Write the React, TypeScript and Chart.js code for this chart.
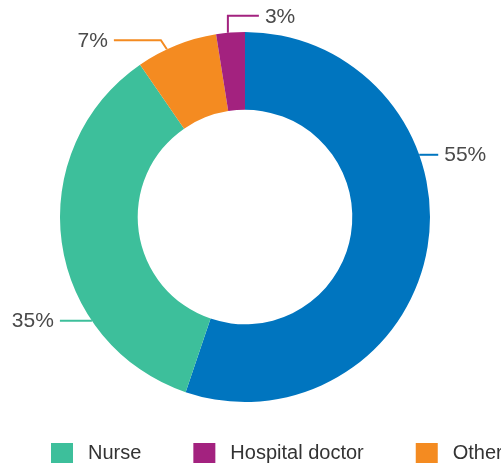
import React, { useEffect, useRef } from "react";
import { Chart, registerables } from "chart.js";

Chart.register(...registerables);

const categories = ["GP", "Nurse", "Hospital doctor", "Other"];
const values = [55.2, 35.2, 7.1, 2.5];
const colors = ["#0075bf", "#3dbf9b", "#f48b21", "#a3227f"];
const legendCategories = ["Nurse", "Hospital doctor", "Other"];
const legendColors = ["#3dbf9b", "#a3227f", "#f48b21"];
// fraction along each slice where the leader line attaches
const anchorFractions = [0.354, 0.293, 0.375, 0.41];

const FONT = "'Liberation Sans', Arial, sans-serif";
const TEXT_COLOR = "#4a4a4a";

const labelPlugin = {
  id: "leaderLabels",
  afterDatasetsDraw(chart: any) {
    const ctx = chart.ctx;
    const meta = chart.getDatasetMeta(0);
    ctx.save();
    ctx.font = `21px ${FONT}`;
    ctx.textBaseline = "middle";
    meta.data.forEach((arc: any, i: number) => {
      const { x, y, startAngle, endAngle, outerRadius } = arc.getProps(
        ["x", "y", "startAngle", "endAngle", "outerRadius"],
        true
      );
      const a = startAngle + (endAngle - startAngle) * anchorFractions[i];
      const ax = x + Math.cos(a) * outerRadius;
      const ay = y + Math.sin(a) * outerRadius;
      ctx.strokeStyle = colors[i];
      ctx.lineWidth = 2;
      ctx.fillStyle = TEXT_COLOR;
      ctx.beginPath();
      ctx.moveTo(ax, ay);
      let tx = 0;
      let ty = ay;
      let align: CanvasTextAlign = "left";
      if (i === 0) {
        ctx.lineTo(ax + 19, ay);
        tx = ax + 25;
      } else if (i === 1) {
        ctx.lineTo(ax - 32, ay);
        tx = ax - 38;
        align = "right";
      } else if (i === 2) {
        ctx.lineTo(ax - 6, ay - 9);
        ctx.lineTo(ax - 53, ay - 9);
        tx = ax - 59;
        ty = ay - 8;
        align = "right";
      } else {
        ctx.lineTo(ax, ay - 17);
        ctx.lineTo(ax + 31, ay - 17);
        tx = ax + 37;
        ty = ay - 16;
      }
      ctx.stroke();
      ctx.textAlign = align;
      ctx.fillText(`${Math.round(values[i])}%`, tx, ty);
    });
    ctx.restore();
  },
};

const legendPlugin = {
  id: "customLegend",
  afterDraw(chart: any) {
    const ctx = chart.ctx;
    ctx.save();
    ctx.font = `20px ${FONT}`;
    ctx.textBaseline = "middle";
    ctx.textAlign = "left";
    let x = 51;
    const boxTop = 443;
    legendCategories.forEach((name, i) => {
      ctx.fillStyle = legendColors[i];
      ctx.fillRect(x, boxTop, 22, 20);
      ctx.fillStyle = "#333333";
      ctx.fillText(name, x + 37, boxTop + 10);
      x += 37 + ctx.measureText(name).width + 52;
    });
    ctx.restore();
  },
};

export default function App() {
  const ref = useRef<HTMLCanvasElement>(null);
  useEffect(() => {
    if (!ref.current) return;
    const chart = new Chart(ref.current, {
      type: "doughnut",
      data: {
        labels: categories,
        datasets: [
          {
            data: values,
            backgroundColor: colors,
            borderWidth: 0,
          },
        ],
      },
      options: {
        responsive: false,
        animation: false,
        cutout: "58%",
        layout: { padding: { top: 32, bottom: 61, left: 60, right: 71 } },
        plugins: {
          legend: { display: false },
          tooltip: { enabled: false },
        },
      },
      plugins: [labelPlugin, legendPlugin],
    });
    return () => chart.destroy();
  }, []);
  return (
    <div style={{ position: "absolute", left: 0, top: 0, width: 501, height: 463, background: "#fff" }}>
      <canvas ref={ref} width={501} height={463} style={{ display: "block" }} />
    </div>
  );
}
